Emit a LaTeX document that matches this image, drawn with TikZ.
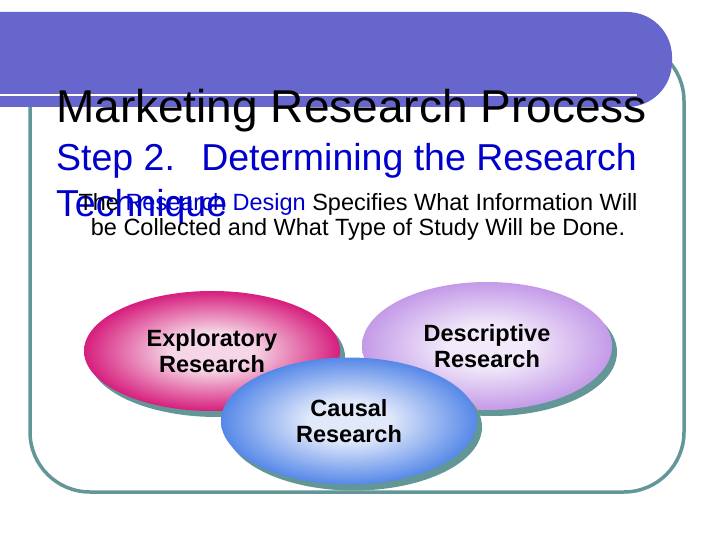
\documentclass[tikz,border=0pt]{standalone}
\usepackage{fontspec}
\setmainfont{Liberation Sans}
\usetikzlibrary{positioning, shapes.geometric, shadows}

\definecolor{barblue}{RGB}{102,102,204}
\definecolor{frameteal}{RGB}{99,150,150}
\definecolor{stepblue}{RGB}{0,0,204}
\definecolor{exploedge}{RGB}{214,30,125}
\definecolor{explolight}{RGB}{246,214,230}
\definecolor{descedge}{RGB}{196,154,232}
\definecolor{desclight}{RGB}{242,234,250}
\definecolor{causedge}{RGB}{86,136,232}
\definecolor{causlight}{RGB}{224,232,250}

\pgfdeclareradialshading{exploglow}{\pgfpoint{0bp}{0bp}}{color(0bp)=(explolight); color(8bp)=(explolight); color(25bp)=(exploedge); color(50bp)=(exploedge)}
\pgfdeclareradialshading{descglow}{\pgfpoint{0bp}{0bp}}{color(0bp)=(desclight); color(8bp)=(desclight); color(25bp)=(descedge); color(50bp)=(descedge)}
\pgfdeclareradialshading{causglow}{\pgfpoint{0bp}{0bp}}{color(0bp)=(causlight); color(8bp)=(causlight); color(25bp)=(causedge); color(50bp)=(causedge)}

\begin{document}
\begin{tikzpicture}[
  x=1pt, y=-1pt,
  heading/.style={anchor=base west, inner sep=0pt, align=left},
  oval/.style={ellipse, inner sep=0pt, align=center, text=black,
               font=\fontsize{23.5}{26}\selectfont\bfseries,
               drop shadow={shadow xshift=5pt, shadow yshift=-6pt, fill=frameteal, opacity=1}},
]
\useasboundingbox (0,0) rectangle (720,540);
\fill[white] (0,0) rectangle (720,540);

% frame and title bar
\draw[frameteal, line width=3.5pt, rounded corners=60pt] (30,41) rectangle (684,492);
\fill[barblue, rounded corners=45pt] (-60,12) rectangle (672,107);
\draw[white, line width=2pt] (0,95) -- (637,95);

% titles
\node[heading, font=\fontsize{46}{50}\selectfont] (title) at (56,123) {Marketing Research Process};
\node[heading, text=stepblue, font=\fontsize{37.5}{46}\selectfont] (step) at (56,217)
  {Step 2.\hspace{0.7em}Determining the Research\\Technique};
\node[anchor=base, inner sep=0pt, align=center, font=\fontsize{23.5}{25.5}\selectfont] (design) at (358,236)
  {The \textcolor{stepblue}{Research Design} Specifies What Information Will\\be Collected and What Type of Study Will be Done.};

% research types
\node[oval, shading=exploglow, minimum width=256pt, minimum height=120pt] (explo) at (212,351) {Exploratory\\Research};
\node[oval, shading=descglow, minimum width=250pt, minimum height=128pt] (desc) at (487,346) {Descriptive\\Research};
\node[oval, shading=causglow, minimum width=256pt, minimum height=127pt] (caus) at (349,421) {Causal\\Research};

\end{tikzpicture}
\end{document}
